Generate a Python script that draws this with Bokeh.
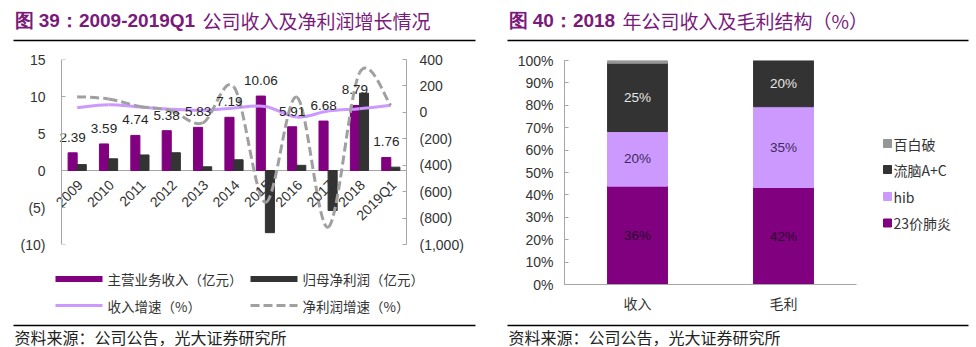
from math import pi
import numpy as np
from bokeh.plotting import figure
from bokeh.models import (Range1d, LinearAxis, FixedTicker, CustomJSTickFormatter,
                          NumeralTickFormatter)
from bokeh.layouts import row, column
from bokeh.embed import file_html
from bokeh.resources import INLINE
from bokeh.core.properties import value

# ---------------- data ----------------
years = ["2009", "2010", "2011", "2012", "2013", "2014", "2015", "2016", "2017", "2018", "2019Q1"]
revenue = [2.39, 3.59, 4.74, 5.38, 5.83, 7.19, 10.06, 5.91, 6.68, 8.79, 1.76]
net_profit = [0.8, 1.58, 2.1, 2.4, 0.5, 1.45, -8.4, 0.7, -5.4, 10.45, 0.45]
rev_growth = [36, 58, 40, 23, 15, 33, 45, -36, 10, 28, 53]
np_growth = [119, 101, 45, 13, -80, 192, -680, 115, -869, 298, 53]
left_ticks = [-10, -5, 0, 5, 10, 15]
right_ticks = [-1000, -800, -600, -400, -200, 0, 200, 400]
left_legend = ["主营业务收入（亿元）", "归母净利润（亿元）", "收入增速（%）", "净利润增速（%）"]

struct_cats = ["收入", "毛利"]
series_names = ["23价肺炎", "hib", "流脑A+C", "百白破"]
pneumo23 = [36, 42]
hib = [20, 35]
mening_ac = [25, 20]
dtp = [1, 0]
pct_ticks = [i / 10 for i in range(11)]

title_left = ["图 39：2009-2019Q1", "公司收入及净利润增长情况"]
title_right = ["图 40：2018", "年公司收入及毛利结构（%）"]
source_text = "资料来源：公司公告，光大证券研究所"

# ---------------- styles ----------------
LAT = "Liberation Sans"
CJK = "Noto Sans CJK SC"
TXT = "#333333"
AX = "#a6a6a6"
PURPLE = "#800080"
LPURPLE = "#cc99ff"
DARK = "#333333"
GRAY = "#a0a0a0"
DTP = "#969696"
TITLE = "#7a1a7a"
H = 347


def base_fig(w, h, xr, yr, **kw):
    f = figure(width=w, height=h, x_range=xr, y_range=yr, output_backend="svg",
               toolbar_location=None, x_axis_location=None, y_axis_location=None,
               outline_line_color=None, background_fill_color="white",
               border_fill_color="white", frame_align=False, **kw)
    f.xgrid.visible = False
    f.ygrid.visible = False
    return f


def deco(w, h):
    # plain canvas for titles / legends / notes, 1 unit = 1 pixel, y downwards
    return base_fig(w, h, Range1d(0, w), Range1d(h, 0), min_border_left=0, min_border_right=0,
                    min_border_top=0, min_border_bottom=0)


def txt(f, x, y, s, size, color, font, style="normal", align="left"):
    f.text(x=[x], y=[y], text=[s], text_font=value(font), text_font_size=size,
           text_color=color, text_font_style=style, text_align=align, text_baseline="middle")


def rule(f, x0, x1, y, color="#000000", width=1.5, dash="solid"):
    f.segment(x0=[x0], y0=[y], x1=[x1], y1=[y], line_color=color, line_width=width,
              line_dash=dash, line_cap="butt")


paren_fmt = CustomJSTickFormatter(code="""
const a = Math.abs(tick);
const s = a.toFixed(0).replace(/\\B(?=(\\d{3})+(?!\\d))/g, ",");
return tick < 0 ? "(" + s + ")" : s;
""")


def style_axis(ax, standoff):
    ax.axis_line_color = AX
    ax.major_tick_line_color = AX
    ax.major_tick_in = 4
    ax.major_tick_out = 0
    ax.minor_tick_line_color = None
    ax.major_label_text_font = LAT
    ax.major_label_text_font_size = "14px"
    ax.major_label_text_color = TXT
    ax.major_label_standoff = standoff

# ================= left panel =================
W1 = 490
n = len(years)
# chart occupies page rows 45..255; plot area 61..406 x 59..244
CH1_TOP, CH1_H = 45, 210
AXL, FR_L, FR_R = 61, 50, 406
unit = (FR_R - AXL) / n
p1 = base_fig(W1, CH1_H, Range1d(-(AXL - FR_L) / unit, n),
              Range1d(left_ticks[0], left_ticks[-1]),
              min_border_left=FR_L, min_border_right=W1 - FR_R,
              min_border_top=59 - CH1_TOP, min_border_bottom=CH1_TOP + CH1_H - 244)
p1.extra_y_ranges = {"r": Range1d(right_ticks[0], right_ticks[-1])}

# left value labels (in the side panel)
ax_l = LinearAxis(ticker=FixedTicker(ticks=left_ticks), formatter=paren_fmt)
style_axis(ax_l, 5)
ax_l.axis_line_color = None
ax_l.major_tick_line_color = None
p1.add_layout(ax_l, "left")
# right axis
ax_r = LinearAxis(y_range_name="r", ticker=FixedTicker(ticks=right_ticks), formatter=paren_fmt)
style_axis(ax_r, 13)
p1.add_layout(ax_r, "right")
# left axis line + ticks, fixed at the first category edge
ax_l_line = LinearAxis(ticker=FixedTicker(ticks=left_ticks), fixed_location=0,
                       formatter=CustomJSTickFormatter(code="return ''"))
style_axis(ax_l_line, 0)
ax_l_line.major_tick_in = 0
ax_l_line.major_tick_out = 4
p1.add_layout(ax_l_line, "right")

xs = np.arange(n) + 0.5
# category axis baseline at zero
p1.segment(x0=[0], y0=[0], x1=[n], y1=[0], line_color=AX, line_width=1)

bw = 0.29
p1.vbar(x=xs - bw / 2, top=revenue, width=bw, color=PURPLE)
p1.vbar(x=xs + bw / 2, top=net_profit, width=bw, color=DARK)


def smooth(p, ys, color, dash, rng):
    pts = np.column_stack([xs, np.asarray(ys, dtype=float)])
    m = len(pts)
    cols = {k: [] for k in ("x0", "y0", "x1", "y1", "cx0", "cy0", "cx1", "cy1")}
    for i in range(m - 1):
        a = pts[i - 1] if i > 0 else pts[i]
        b = pts[i]
        c = pts[i + 1]
        d = pts[i + 2] if i + 2 < m else pts[i + 1]
        k1 = b + (c - a) / 6
        k2 = c - (d - b) / 6
        for key, v in zip(cols, (b[0], b[1], c[0], c[1], k1[0], k1[1], k2[0], k2[1])):
            cols[key].append(v)
    p.bezier(**cols, line_color=color, line_width=3, line_dash=dash, y_range_name=rng)

smooth(p1, rev_growth, LPURPLE, "solid", "r")
smooth(p1, np_growth, GRAY, "9 4", "r")

p1.text(x=xs - bw / 2, y=revenue, text=[f"{v:.2f}" for v in revenue],
        text_font=value(LAT), text_font_size="13.5px", text_color="#262626",
        text_align="center", text_baseline="bottom", y_offset=-11)
p1.text(x=xs, y=np.zeros(n), text=years, angle=pi / 4,
        text_font=value(LAT), text_font_size="14px", text_color=TXT,
        text_align="right", text_baseline="middle", x_offset=3, y_offset=12)

# title strip (page rows 0..45)
t1 = deco(W1, 45)
txt(t1, 14, 20, title_left[0], "19px", TITLE, LAT, "bold")
txt(t1, 202, 20, title_left[1], "19px", TITLE, CJK)
rule(t1, 13, 475, 40)

# legend + source strip (page rows 255..347)
b1 = deco(W1, H - CH1_TOP - CH1_H)
oy = CH1_TOP + CH1_H
rule(b1, 55, 102, 278.5 - oy, PURPLE, 6)
txt(b1, 107, 278 - oy, left_legend[0], "13.5px", TXT, CJK)
rule(b1, 250, 297, 278.5 - oy, DARK, 6)
txt(b1, 302, 278 - oy, left_legend[1], "13.5px", TXT, CJK)
rule(b1, 55, 102, 305 - oy, LPURPLE, 3)
txt(b1, 107, 305 - oy, left_legend[2], "13.5px", TXT, CJK)
rule(b1, 250, 297, 305 - oy, GRAY, 3, "9 4")
txt(b1, 302, 305 - oy, left_legend[3], "13.5px", TXT, CJK)
rule(b1, 13, 475, 325 - oy)
txt(b1, 14, 336 - oy, source_text, "16px", "#222222", CJK)

left_col = column(t1, p1, b1, spacing=0)

# ================= right panel =================
OX = 490
W2 = 976 - OX
CH2_TOP, CH2_H = 45, 270
LEG_W = 110
CW2 = W2 - LEG_W
m = len(struct_cats)
p2 = base_fig(CW2, CH2_H, Range1d(0, m), Range1d(0, 1),
              min_border_left=564 - OX, min_border_right=OX + CW2 - 856,
              min_border_top=60 - CH2_TOP, min_border_bottom=CH2_TOP + CH2_H - 286)

ay = LinearAxis(ticker=FixedTicker(ticks=pct_ticks), formatter=NumeralTickFormatter(format="0%"))
style_axis(ay, 11)
p2.add_layout(ay, "left")
cx = np.arange(m) + 0.5
axx = LinearAxis(ticker=FixedTicker(ticks=list(cx)),
                 major_label_overrides={float(c): s for c, s in zip(cx, struct_cats)})
style_axis(axx, 8)
axx.major_tick_line_color = None
axx.major_label_text_font = CJK
p2.add_layout(axx, "below")

stack = [pneumo23, hib, mening_ac, dtp]
colors = [PURPLE, LPURPLE, DARK, DTP]
lab_colors = ["#2a0a2a", "#3c2a5c", "#e6e6e6", None]
totals = np.sum(np.array(stack, dtype=float), axis=0)
bottom = np.zeros(m)
for vals, col, lc in zip(stack, colors, lab_colors):
    share = np.array(vals, dtype=float) / totals
    top = bottom + share
    p2.vbar(x=cx, bottom=bottom, top=top, width=0.41, color=col)
    if lc is not None:
        p2.text(x=cx, y=(bottom + top) / 2, text=[f"{v}%" for v in vals],
                text_font=value(LAT), text_font_size="13.5px", text_color=lc,
                text_align="center", text_baseline="middle")
    bottom = top

# legend strip to the right of the chart
lg = deco(LEG_W, CH2_H)
lx0 = OX + CW2
leg_y = [143, 169, 196, 222.5]
for name, col, yy in zip(series_names[::-1], colors[::-1], leg_y):
    lg.rect(x=[887 - lx0], y=[yy - CH2_TOP], width=8, height=8, color=col)
    txt(lg, 893 - lx0, yy - CH2_TOP, name, "14px", TXT, CJK)

t2 = deco(W2, 45)
txt(t2, 508 - OX, 20, title_right[0], "19px", TITLE, LAT, "bold")
txt(t2, 622 - OX, 20, title_right[1], "19px", TITLE, CJK)
rule(t2, 507 - OX, 968 - OX, 40)

b2 = deco(W2, H - CH2_TOP - CH2_H)
oy2 = CH2_TOP + CH2_H
rule(b2, 507 - OX, 968 - OX, 325 - oy2)
txt(b2, 508 - OX, 336 - oy2, source_text, "16px", "#222222", CJK)

right_col = column(t2, row(p2, lg, spacing=0), b2, spacing=0)

layout = row(left_col, right_col, spacing=0)
open("out.html", "w").write(file_html(layout, INLINE))
